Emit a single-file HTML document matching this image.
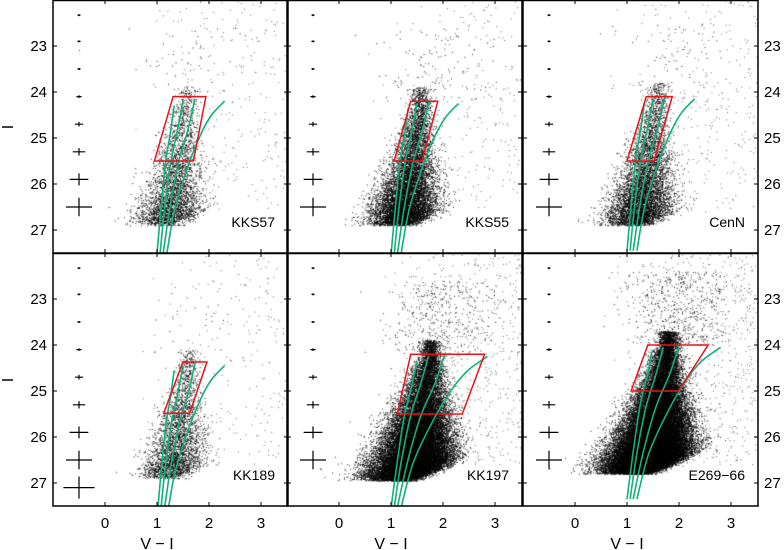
<!DOCTYPE html>
<html><head><meta charset="utf-8"><style>
html,body{margin:0;padding:0;background:#fff;width:784px;height:550px;overflow:hidden}
#wrap{position:relative;width:784px;height:550px}
canvas,svg{position:absolute;left:0;top:0}
text{font-family:"Liberation Sans",sans-serif;fill:#000}
</style></head><body>
<div id="wrap">
<canvas id="cv" width="784" height="550"></canvas>
<svg id="sv" width="784" height="550" xmlns="http://www.w3.org/2000/svg"></svg>
</div>
<script>
// ---- data ----
const panelNames = ["KKS57","KKS55","CenN","KK189","KK197","E269\u221266"];
const tipMags = [24.15,24.2,24.1,24.4,24.2,24.0];
const starCounts = [3500,10000,6500,3200,30000,45000];
const fieldCounts = [450,400,450,350,900,1000];
const colorShift = [0,0,0,0.05,0.25,0.3];
const faintLimits = [26.9,26.9,26.9,26.9,26.95,26.8];
const boxTopMag = [24.1,24.2,24.1,24.37,24.2,24.0];
const boxBotMag = [25.5,25.5,25.5,25.48,25.5,25.0];
const boxTopL = [1.31,1.38,1.37,1.5,1.38,1.4];
const boxTopR = [1.94,1.9,1.87,1.96,2.8,2.56];
const boxBotL = [0.95,1.06,1.0,1.13,1.12,1.08];
const boxBotR = [1.70,1.6,1.52,1.63,2.37,1.99];
const errMags = [22.33,22.9,23.5,24.1,24.7,25.3,25.9,26.5,27.1];
const errX = [0.02,0.025,0.03,0.05,0.08,0.12,0.18,0.25,0.3];
const errY = [0.01,0.01,0.015,0.03,0.05,0.08,0.13,0.2,0.24];
const errCount = [8,8,8,9,8,8];
// isochrones relative to tip 24.15 (colour, mag)
const iso1C = [1.0,1.08,1.17,1.27,1.33], iso1M = [27.5,26.5,25.5,24.8,24.3];
const iso2C = [1.06,1.15,1.27,1.4,1.5], iso2M = [27.5,26.5,25.5,24.8,24.2];
const iso3C = [1.12,1.25,1.42,1.6,1.73], iso3M = [27.5,26.5,25.5,24.8,24.15];
const iso4C = [1.19,1.35,1.6,1.85,2.05,2.3], iso4M = [27.5,26.5,25.6,24.9,24.5,24.2];
const isoStretch = [1,1,1,1,1.5,1.45];
const xTicks = [0,1,2,3];
const yTicks = [23,24,25,26,27];

// ---- geometry ----
const PX = [53,287,523], PY = [0,253], PW = 235, PH = 253, SX = 52, SY = 46;
function geo(i){return {x0:PX[i%3], y0:PY[Math.floor(i/3)]};}
function xs(i,c){return geo(i).x0 + (c+1)*SX;}
function ys(i,m){return geo(i).y0 + (m-22)*SY;}

// ---- stars ----
const cv = document.getElementById('cv'), ctx = cv.getContext('2d');
let seed = 12345;
function rnd(){seed = (seed*1664525 + 1013904223) % 4294967296; return seed/4294967296;}
function gauss(){let u=rnd()||1e-9,v=rnd();return Math.sqrt(-2*Math.log(u))*Math.cos(2*Math.PI*v);}
ctx.fillStyle = '#000';
for(let i=0;i<6;i++){
  const g=geo(i);
  ctx.save(); ctx.beginPath(); ctx.rect(g.x0,g.y0,PW,PH); ctx.clip();
  const tip=tipMags[i], lim=faintLimits[i], sh=colorShift[i];
  const a=1.0, L=lim-tip+0.3;
  for(let k=0;k<starCounts[i];k++){
    let m = tip - 0.3 + Math.log(1 + rnd()*(Math.exp(a*L)-1))/a;
    let extra = 0;
    if(rnd()<0.012){ m = tip - rnd()*1.6; extra = 0.45; }
    const t = Math.max(0,m-tip);
    const cen = 1.58 + sh*0.7 - 0.13*t + extra*0.5;
    const sig = 0.1 + 0.09*t + (i>=4?0.04*t:0) + extra;
    const c = cen + gauss()*sig;
    const limc = lim - Math.max(0,c-1.3)*0.45 + gauss()*0.06;
    if(m>limc) continue;
    ctx.globalAlpha = 0.85;
    ctx.fillRect(xs(i,c), ys(i,m), 1, 1);
  }
  for(let k=0;k<fieldCounts[i];k++){
    const m = 22 + rnd()*4.6;
    const c = 0.5 + rnd()*3.1;
    if(rnd() > (c-0.5)/2.0) continue;
    ctx.globalAlpha = 0.6;
    ctx.fillRect(xs(i,c), ys(i,m), 1, 1);
  }
  ctx.restore();
}

// ---- SVG overlay ----
const NS='http://www.w3.org/2000/svg', sv=document.getElementById('sv');
function el(tag,attrs,parent){const e=document.createElementNS(NS,tag);for(const k in attrs)e.setAttribute(k,attrs[k]);(parent||sv).appendChild(e);return e;}
function smooth(i,C,M,stretch){
  const pts=C.map((c,k)=>{const mm=tipMags[i]+(M[k]-24.15);const cc=C[0]+(c-C[0])*stretch;return [xs(i,cc),ys(i,mm)];});
  let d='M'+pts[0][0].toFixed(1)+','+pts[0][1].toFixed(1);
  for(let k=0;k<pts.length-1;k++){
    const p0=pts[k-1]||pts[k],p1=pts[k],p2=pts[k+1],p3=pts[k+2]||p2;
    const c1=[p1[0]+(p2[0]-p0[0])/6,p1[1]+(p2[1]-p0[1])/6],c2=[p2[0]-(p3[0]-p1[0])/6,p2[1]-(p3[1]-p1[1])/6];
    d+='C'+c1.map(v=>v.toFixed(1))+' '+c2.map(v=>v.toFixed(1))+' '+p2.map(v=>v.toFixed(1));
  }
  return d;
}
for(let i=0;i<6;i++){
  const g=geo(i);
  const grp=el('g',{});
  
  
  const clip=el('clipPath',{id:'cp'+i},grp); el('rect',{x:g.x0,y:g.y0,width:PW,height:PH},clip);
  for(let k=0;k<errCount[i];k++){
    const cx=xs(i,-0.5), cy=ys(i,errMags[k]);
    const hx=Math.max(1.5,errX[k]*SX), hy=Math.max(1,errY[k]*SY);
    const e=el('path',{d:`M${cx-hx},${cy}H${cx+hx}M${cx},${cy-hy}V${cy+hy}`,stroke:'#000','stroke-width':1.2,fill:'none'},grp);
    
    
  }
  const isoG=el('g',{'clip-path':`url(#cp${i})`},grp);
  [[iso1C,iso1M],[iso2C,iso2M],[iso3C,iso3M],[iso4C,iso4M]].forEach((a,j)=>{
    const p=el('path',{d:smooth(i,a[0],a[1],isoStretch[i]),stroke:'#12b07a','stroke-width':1.6,fill:'none'},isoG);
    
    
  });
  const bx=el('path',{d:`M${xs(i,boxTopL[i])},${ys(i,boxTopMag[i])}L${xs(i,boxTopR[i])},${ys(i,boxTopMag[i])}L${xs(i,boxBotR[i])},${ys(i,boxBotMag[i])}L${xs(i,boxBotL[i])},${ys(i,boxBotMag[i])}Z`,stroke:'#e8141c','stroke-width':1.5,fill:'none'},grp);
  
  
  const fr=el('rect',{x:g.x0,y:g.y0+0.5,width:PW,height:PH-0.5,fill:'none',stroke:'#000','stroke-width':1.5},grp);
  
  
  yTicks.forEach(v=>{const y=ys(i,v);
    const t=el('path',{d:`M${g.x0},${y}h4M${g.x0+PW},${y}h-4`,stroke:'#000','stroke-width':1},grp);
    
    });
  xTicks.forEach(v=>{const x=xs(i,v);
    const t=el('path',{d:`M${x},${g.y0+PH}v-4M${x},${g.y0}v4`,stroke:'#000','stroke-width':1},grp);
    
    });
  const lb=el('text',{x:g.x0+PW-13,y:g.y0+PH-26,'text-anchor':'end','font-size':14},grp);
  lb.textContent=panelNames[i];
  
  
  if(i%3!==1){
    yTicks.forEach(v=>{
      const t=el('text',{x:i%3===0?g.x0-6:g.x0+PW+6,y:ys(i,v)+5,'text-anchor':i%3===0?'end':'start','font-size':15},grp);
      t.textContent=v;
      
      
    });
  }
  if(i>=3){
    xTicks.forEach(v=>{
      const t=el('text',{x:xs(i,v),y:528,'text-anchor':'middle','font-size':15},grp);
      t.textContent=v;
      
      
    });
    const xl=el('text',{x:xs(i,1.0),y:549,'text-anchor':'middle','font-size':16},grp);
    xl.textContent='V \u2212 I';
    
    
  }
  if(i%3===0){
    const yl=el('text',{x:0,y:0,'text-anchor':'middle','font-size':16,transform:`translate(13,${g.y0+127}) rotate(-90)`},grp);
    yl.textContent='I';
    
    
  }
}
</script>
</body></html>
